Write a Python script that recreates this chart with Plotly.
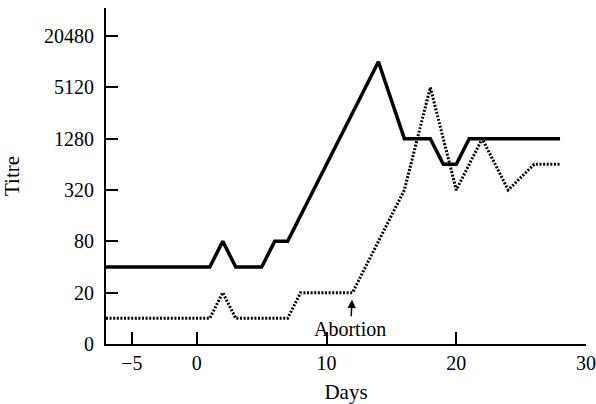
import math
import plotly.graph_objects as go

# Antibody titre after infection, days relative to day 0
solid_days = [-7, 1, 2, 3, 5, 6, 7, 14, 16, 18, 19, 20, 21, 28]
solid_titre = [40, 40, 80, 40, 40, 80, 80, 10240, 1280, 1280, 640, 640, 1280, 1280]

dotted_days = [-7, 1, 2, 3, 7, 8, 12, 16, 18, 20, 22, 24, 26, 28]
dotted_titre = [10, 10, 20, 10, 10, 20, 20, 320, 5120, 320, 1280, 320, 640, 640]

# Log axis: the lowest tick (value 5) is printed as "0"
y_tickvals = [5, 20, 80, 320, 1280, 5120, 20480]
y_ticktext = ["0", "20", "80", "320", "1280", "5120", "20480"]
x_tickvals = [-5, 0, 10, 20, 30]
x_ticktext = ["\u22125", "0", "10", "20", "30"]

abortion_day = 12
abortion_titre = 20

FONT = "Liberation Serif"

fig = go.Figure()
fig.add_trace(go.Scatter(
    x=solid_days, y=solid_titre, mode="lines",
    line=dict(color="black", width=3.5),
    showlegend=False,
))
fig.add_trace(go.Scatter(
    x=dotted_days, y=dotted_titre, mode="lines",
    line=dict(color="black", width=3, dash="2px,1.6px"),
    showlegend=False,
))

# annotations on a log axis take log10 coordinates
fig.add_annotation(
    x=abortion_day, y=math.log10(abortion_titre), xref="x", yref="y",
    text="Abortion", showarrow=True,
    ax=-2, ay=36,
    arrowhead=2, arrowsize=1.1, arrowwidth=1.5, arrowcolor="black",
    standoff=7,
    font=dict(family=FONT, size=20, color="black"),
)

fig.update_layout(
    width=596, height=404,
    margin=dict(l=106, r=10, t=8, b=60),
    paper_bgcolor="white", plot_bgcolor="white",
    font=dict(family=FONT, size=20, color="black"),
)
fig.update_xaxes(
    range=[-7, 30], tickmode="array", tickvals=x_tickvals, ticktext=x_ticktext,
    ticks="inside", ticklen=12, tickwidth=2, tickcolor="black",
    showline=True, linecolor="black", linewidth=2,
    showgrid=False, zeroline=False, automargin=False,
    title=dict(text="Days", font=dict(family=FONT, size=21), standoff=12),
)
fig.update_yaxes(
    type="log", range=[0.69897, 4.640], tickmode="array",
    tickvals=y_tickvals, ticktext=y_ticktext,
    ticks="inside", ticklen=12, tickwidth=2, tickcolor="black",
    ticklabelstandoff=6,
    showline=True, linecolor="black", linewidth=2,
    showgrid=False, zeroline=False, automargin=False,
    title=dict(text="Titre", font=dict(family=FONT, size=21), standoff=22),
)

fig.write_html("out.html")
